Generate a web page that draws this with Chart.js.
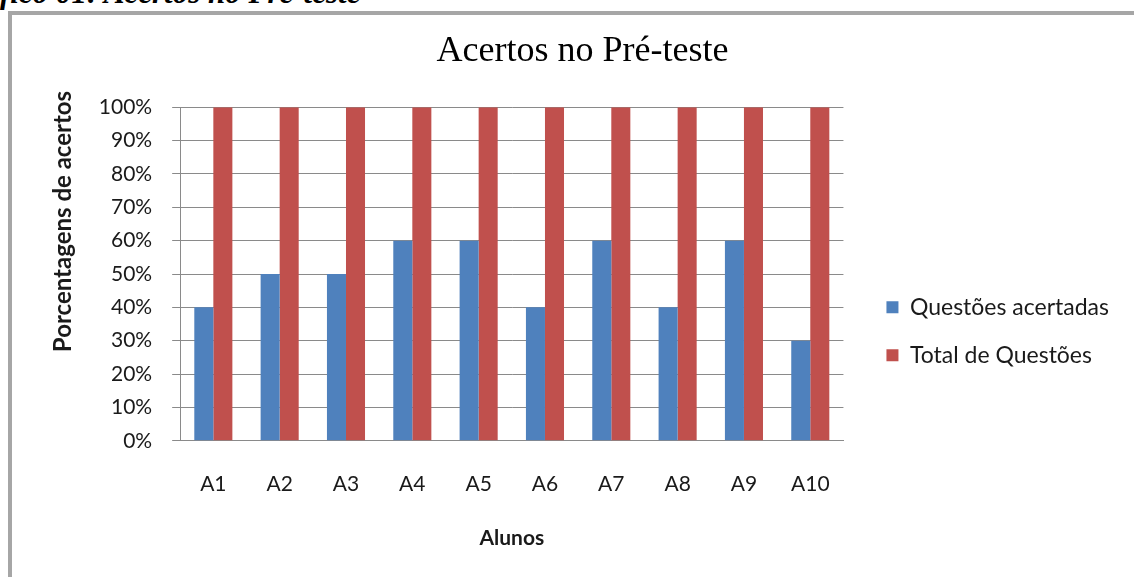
<!DOCTYPE html>
<html>
<head>
<meta charset="utf-8">
<title>Acertos no Pré-teste</title>
<script src="https://cdn.jsdelivr.net/npm/chart.js@4"></script>
<style>
    html, body { margin: 0; padding: 0; background: #fff; overflow: hidden; }
    body { width: 1134px; height: 577px; position: relative; }
    #caption {
        position: absolute; left: -50px; top: -23px;
        font: italic bold 31px "Liberation Serif", serif; line-height: 31px;
        white-space: nowrap; color: #000;
    }
    #frame {
        position: absolute; left: 8px; top: 11px;
        width: 1200px; height: 700px;
        border: 4px solid #a6a6a6;
    }
    #chartBox { position: absolute; left: 0; top: 0; width: 1134px; height: 577px; }
</style>
</head>
<body>
<div id="caption">Gráfico 01: Acertos no Pré-teste</div>
<div id="frame"></div>
<div id="chartBox"><canvas id="preTesteChart"></canvas></div>

<script>
// data
const alunos = ['A1', 'A2', 'A3', 'A4', 'A5', 'A6', 'A7', 'A8', 'A9', 'A10'];
const questoesAcertadas = [40, 50, 50, 60, 60, 40, 60, 40, 60, 30];
const totalQuestoes = [100, 100, 100, 100, 100, 100, 100, 100, 100, 100];
const seriesNames = ['Questões acertadas', 'Total de Questões'];

const colors = ['#4F81BD', '#C0504D'];
const gridColor = '#8a8a8a';
const textColor = '#1a1a1a';
const sans = 'Lato, "Open Sans", sans-serif';

const ctx = document.getElementById('preTesteChart').getContext('2d');

new Chart(ctx, {
    type: 'bar',
    data: {
        labels: alunos,
        datasets: [{
            label: seriesNames[0],
            data: questoesAcertadas,
            backgroundColor: colors[0],
            borderWidth: 0
        }, {
            label: seriesNames[1],
            data: totalQuestoes,
            backgroundColor: colors[1],
            borderWidth: 0
        }]
    },
    options: {
        responsive: true,
        maintainAspectRatio: false,
        animation: false,
        categoryPercentage: 0.574,
        barPercentage: 1,
        layout: {
            padding: { left: 46, right: 15, top: 0, bottom: 0 }
        },
        scales: {
            y: {
                min: 0,
                max: 100,
                ticks: {
                    stepSize: 10,
                    padding: 20,
                    color: textColor,
                    font: { family: sans, size: 21 },
                    callback: (value) => `${value}%`
                },
                grid: { color: gridColor, tickLength: 8 },
                border: { color: gridColor },
                title: {
                    display: true,
                    // leading spaces push the label up, like the original
                    text: ' '.repeat(18) + 'Porcentagens de acertos',
                    color: textColor,
                    font: { family: sans, size: 24, weight: 'bold' },
                    padding: { top: 3, bottom: 1 }
                }
            },
            // empty spacer between plot and legend
            gap: {
                type: 'linear',
                position: 'right',
                display: true,
                ticks: { display: false },
                grid: { display: false },
                border: { display: false },
                afterFit: (scale) => { scale.width = 18; }
            },
            x: {
                grid: { display: false, drawTicks: false },
                border: { color: gridColor },
                ticks: {
                    padding: 31,
                    color: textColor,
                    font: { family: sans, size: 21 }
                },
                title: {
                    display: true,
                    text: 'Alunos',
                    color: textColor,
                    font: { family: sans, size: 21, weight: 'bold', lineHeight: 1 },
                    padding: { top: 0, bottom: 28 }
                }
            }
        },
        plugins: {
            title: {
                display: true,
                text: 'Acertos no Pré-teste',
                color: '#000',
                font: { family: '"Liberation Serif", serif', size: 36, weight: 'normal' },
                padding: { top: 30, bottom: 34 }
            },
            legend: {
                position: 'right',
                maxWidth: 320,
                title: { display: true, text: '', font: { size: 12 }, padding: { top: 71, bottom: 0 } },
                labels: {
                    boxWidth: 12,
                    boxHeight: 12,
                    padding: 25,
                    color: textColor,
                    font: { family: sans, size: 23 }
                }
            },
            tooltip: { enabled: false }
        }
    }
});
</script>
</body>
</html>
